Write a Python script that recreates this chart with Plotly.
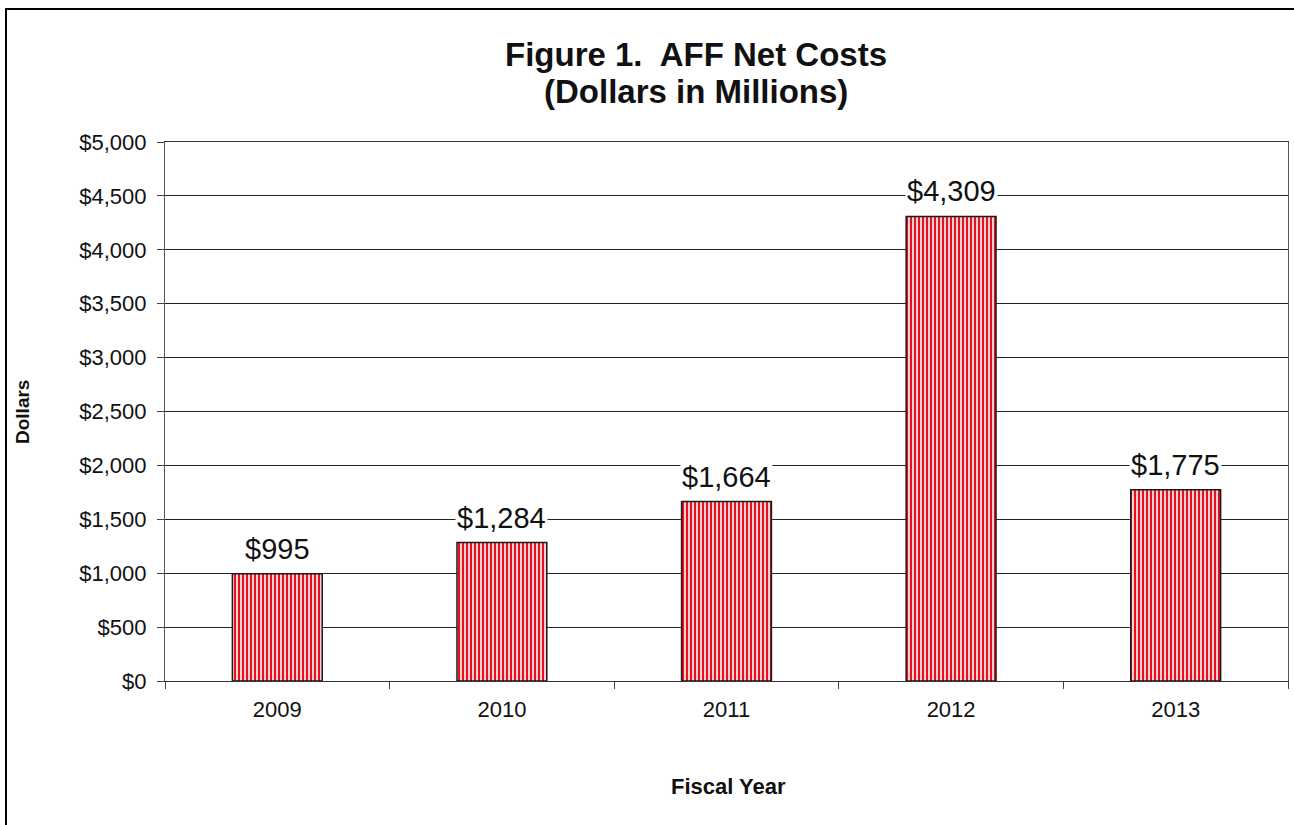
import plotly.graph_objects as go

years = ["2009", "2010", "2011", "2012", "2013"]
net_costs = [995, 1284, 1664, 4309, 1775]
y_ticks = [0, 500, 1000, 1500, 2000, 2500, 3000, 3500, 4000, 4500, 5000]
y_tick_labels = ["$" + f"{v:,}" for v in y_ticks]
bar_labels = ["$" + f"{v:,}" for v in net_costs]

FONT = "Liberation Sans, Arial, sans-serif"
W, H = 1294, 825
ML, MR, MT, MB = 165, 6, 142, 144
PW = W - ML - MR
PH = H - MT - MB

def px_x(x):
    return (x - ML) / PW

def px_y(y):
    return (H - MB - y) / PH

fig = go.Figure()
fig.add_trace(go.Bar(
    x=years, y=net_costs, width=0.4,
    marker=dict(
        color="white",
        line=dict(color="#1a1a1a", width=1.5),
        pattern=dict(shape="|", fgcolor="#e8101c", bgcolor="#fbe4e6",
                     size=4, solidity=0.55, fillmode="replace"),
    ),
    hoverinfo="skip",
))

for i, (v, lab) in enumerate(zip(net_costs, bar_labels)):
    fig.add_annotation(x=i, y=v, text=lab, showarrow=False, yanchor="bottom",
                       yshift=7, bgcolor="white", borderpad=1,
                       font=dict(family=FONT, size=29, color="#111"))

fig.add_annotation(xref="paper", yref="paper", x=px_x(696), y=px_y(54),
                   text="<b>Figure 1.&nbsp; AFF Net Costs</b>",
                   showarrow=False, xanchor="center", yanchor="middle",
                   font=dict(family=FONT, size=33, color="#111"))
fig.add_annotation(xref="paper", yref="paper", x=px_x(696), y=px_y(92),
                   text="<b>(Dollars in Millions)</b>",
                   showarrow=False, xanchor="center", yanchor="middle",
                   font=dict(family=FONT, size=33, color="#111"))

fig.add_annotation(xref="paper", yref="paper", x=px_x(22), y=px_y(412),
                   text="<b>Dollars</b>", textangle=-90, showarrow=False,
                   xanchor="center", yanchor="middle",
                   font=dict(family=FONT, size=19, color="#111"))

fig.add_annotation(xref="paper", yref="paper", x=px_x(728), y=px_y(786),
                   text="<b>Fiscal Year</b>", showarrow=False,
                   xanchor="center", yanchor="middle",
                   font=dict(family=FONT, size=22, color="#111"))

fig.add_shape(type="rect", xref="paper", yref="paper",
              x0=px_x(6), x1=px_x(1300), y0=px_y(840), y1=px_y(9),
              line=dict(color="black", width=2), fillcolor="rgba(0,0,0,0)",
              layer="below")

fig.update_layout(
    width=W, height=H,
    margin=dict(l=ML, r=MR, t=MT, b=MB),
    paper_bgcolor="white", plot_bgcolor="white",
    showlegend=False,
    font=dict(family=FONT, color="#111"),
    xaxis=dict(
        type="category", tickson="boundaries", ticks="outside", ticklen=7,
        tickcolor="#444", showgrid=False, showline=True, linecolor="#333",
        linewidth=1.2, mirror=True, tickfont=dict(family=FONT, size=22, color="#111"),
        range=[-0.5, 4.5], ticklabelstandoff=8,
    ),
    yaxis=dict(
        range=[0, 5000], tickvals=y_ticks, ticktext=y_tick_labels,
        ticks="outside", ticklen=7, tickcolor="#444",
        showgrid=True, gridcolor="#222", gridwidth=1,
        showline=True, linecolor="#555", linewidth=1.2, mirror=True,
        tickfont=dict(family=FONT, size=22, color="#111"),
        ticklabelstandoff=6, zeroline=False,
    ),
    bargap=0.6,
)

fig.write_html("out.html", config={"displayModeBar": False},
               post_script="document.body.style.margin='0';document.body.style.overflow='hidden';")
